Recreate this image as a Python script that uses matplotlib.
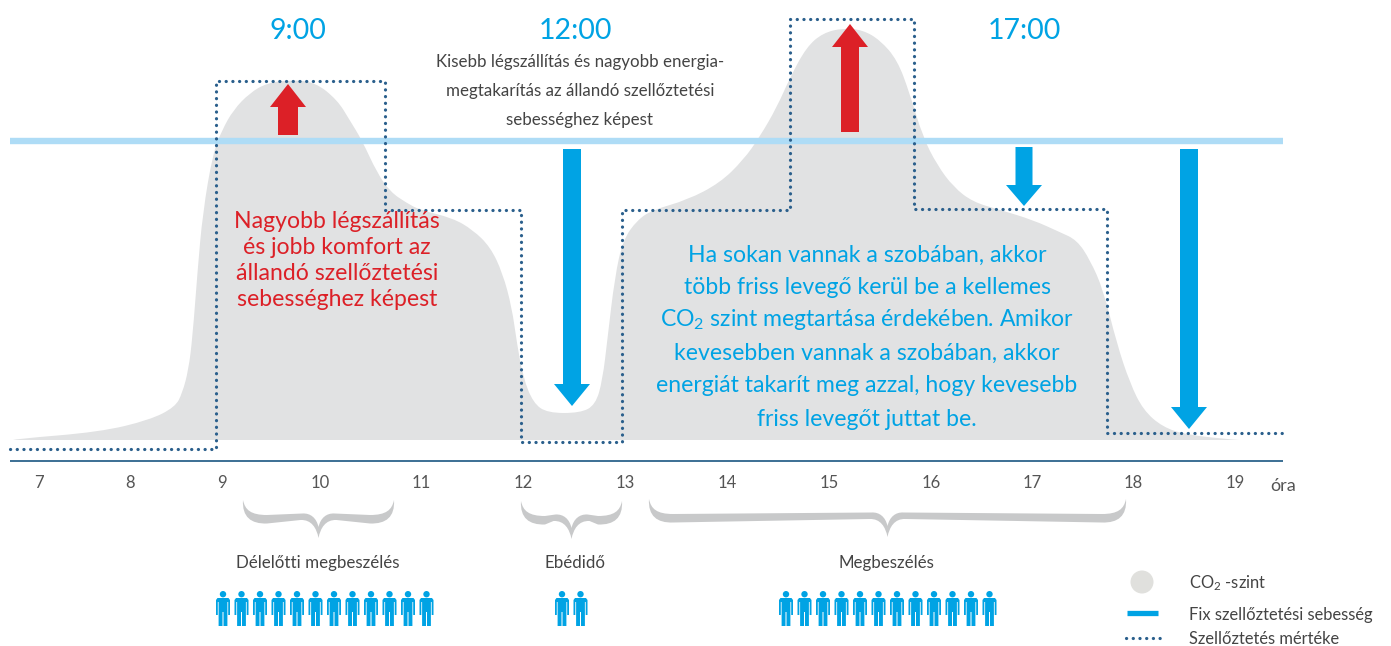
import matplotlib
matplotlib.use('Agg')
import matplotlib.pyplot as plt
from matplotlib.path import Path
from matplotlib.patches import PathPatch, Circle

plt.rcParams['font.family'] = ['Lato', 'DejaVu Sans']
plt.rcParams['mathtext.default'] = 'regular'

# CO2 outline, hour of day / level above the baseline
co2_hour = [7.00, 7.02, 7.85, 8.34, 8.59, 8.66, 8.72, 8.76, 8.81, 8.86, 8.96, 9.05, 9.16, 9.32, 9.49, 9.72, 9.96,
            10.18, 10.30, 10.42, 10.57, 10.70, 10.86, 10.99, 11.31, 11.51, 11.68, 11.80, 11.89, 11.94, 12.00, 12.10,
            12.24, 12.56, 12.71, 12.78, 12.83, 12.90, 12.98, 13.12, 13.27, 13.61, 13.93, 14.16, 14.32, 14.49, 14.62,
            14.78, 14.94, 15.14, 15.33, 15.50, 15.67, 15.79, 15.92, 16.06, 16.22, 16.41, 16.68, 17.00, 17.26, 17.43,
            17.56, 17.69, 17.82, 17.95, 18.08, 18.27, 18.51, 19.00, 19.05]
co2_level = [0, 1, 8, 20, 33, 47, 70, 103, 170, 227, 287, 310, 330, 347, 357, 360, 358,
             340, 320, 300, 267, 248, 237, 230, 222, 210, 193, 167, 133, 97, 63, 37,
             27, 27, 35, 60, 103, 163, 200, 220, 230, 240, 257, 280, 303, 333, 363,
             393, 407, 412, 410, 400, 380, 347, 303, 275, 253, 238, 230, 220, 208, 200,
             180, 150, 97, 57, 30, 13, 5, 0, 0]

# ventilation steps
vent_hour = [6.97, 8.99, 8.99, 10.65, 10.65, 11.98, 11.98, 12.97, 12.97, 14.62, 14.62, 15.83, 15.83, 17.73, 17.73, 19.47]
vent_level = [-9, -9, 359, 359, 230, 230, -2, -2, 230, 230, 421, 421, 231, 231, 7, 7]
fixed_level = 299

hour_labels = ['7', '8', '9', '10', '11', '12', '13', '14', '15', '16', '17', '18', '19']
hour_label_pos = [7.25, 8.15, 9.05, 10.01, 11.0, 12.0, 13.0, 14.0, 15.0, 16.0, 16.99, 17.98, 18.98]

period_labels = ['Délelőtti megbeszélés', 'Ebédidő', 'Megbeszélés']
period_people = [12, 2, 12]

red = '#dc2027'
blue = '#00a3e4'
dots = '#2a5f8c'
grey = '#e1e2e3'
dark = '#444444'
dotted = (0, (0.05, 2.05))

fig = plt.figure(figsize=(13.91, 6.46), dpi=100)

# chart axes: 102 px per hour, 1 px per level unit
ax = fig.add_axes([0, 0, 1, 1])
ax.set_xlim(6.8725, 20.5098)
ax.set_ylim(-206, 440)
ax.axis('off')

# smooth the outline with quadratic segments through the read points
pts = list(zip(co2_hour, co2_level))
verts = [pts[0]]
codes = [Path.MOVETO]
for i in range(1, len(pts) - 1):
    mid = ((pts[i][0] + pts[i + 1][0]) / 2, (pts[i][1] + pts[i + 1][1]) / 2)
    verts += [pts[i], mid]
    codes += [Path.CURVE3, Path.CURVE3]
verts += [pts[-1], pts[0], pts[0]]
codes += [Path.LINETO, Path.LINETO, Path.CLOSEPOLY]
ax.add_patch(PathPatch(Path(verts, codes), fc=grey, ec='none', zorder=1))

ax.plot([6.97, 19.45], [fixed_level, fixed_level], color='#aedcf6', lw=4.6, solid_capstyle='butt', zorder=2)
ax.plot(vent_hour, vent_level, color=dots, lw=2.3, ls=dotted, dash_capstyle='round', zorder=3)
ax.plot([6.97, 19.45], [-21, -21], color='#3b6f94', lw=1.4, solid_capstyle='butt', zorder=2)

for h, lab in zip(hour_label_pos, hour_labels):
    ax.text(h, -43, lab, ha='center', va='center', fontsize=12, color='#555555')

# overlay in image pixels for the annotation layer
ov = fig.add_axes([0, 0, 1, 1], facecolor='none')
ov.set_xlim(0, 1391)
ov.set_ylim(646, 0)
ov.axis('off')


def arrow(x, y0, y1, tip, half, col):
    xs = [x - half, x + half, x + half, x + 18, x, x - 18, x - half]
    ys = [y0, y0, y1, y1, tip, y1, y1]
    ov.fill(xs, ys, color=col, lw=0, zorder=5)


arrow(288, 135, 107, 84, 10, red)
arrow(850, 132, 47, 24, 9, red)
arrow(572, 149, 384, 406, 9, blue)
arrow(1024, 147, 185, 206, 8.5, blue)
arrow(1189, 149, 407, 429, 9, blue)


def brace(x0, x1, top=500, col='#c8c9ca'):
    xc = (x0 + x1) / 2
    v = [(x0, top), (x0 + 2, top + 10), (x0 + 8, top + 15), (x0 + 24, top + 15),
         (xc - 16, top + 13.5), (xc - 8, top + 13), (xc - 2, top + 18), (xc, top + 27),
         (xc + 2, top + 18), (xc + 8, top + 13), (xc + 16, top + 13.5),
         (x1 - 24, top + 15), (x1 - 8, top + 15), (x1 - 2, top + 10), (x1, top),
         (x1 + 1, top + 17), (x1 - 8, top + 24), (x1 - 24, top + 23.5),
         (xc + 18, top + 20), (xc + 7, top + 19.5), (xc + 2, top + 28), (xc, top + 38),
         (xc - 2, top + 28), (xc - 7, top + 19.5), (xc - 18, top + 20),
         (x0 + 24, top + 23.5), (x0 + 8, top + 24), (x0 - 1, top + 17), (x0, top)]
    c = [Path.MOVETO, Path.CURVE4, Path.CURVE4, Path.CURVE4,
         Path.LINETO, Path.CURVE4, Path.CURVE4, Path.CURVE4,
         Path.CURVE4, Path.CURVE4, Path.CURVE4,
         Path.LINETO, Path.CURVE4, Path.CURVE4, Path.CURVE4,
         Path.CURVE4, Path.CURVE4, Path.CURVE4,
         Path.LINETO, Path.CURVE4, Path.CURVE4, Path.CURVE4,
         Path.CURVE4, Path.CURVE4, Path.CURVE4,
         Path.LINETO, Path.CURVE4, Path.CURVE4, Path.CURVE4]
    ov.add_patch(PathPatch(Path(v, c), fc=col, ec='none'))


brace(243, 394)
brace(521, 622, top=501)
brace(649, 1126, top=499)


def person(x, y=591, col=blue):
    ov.add_patch(Circle((x, y + 3.2), 3.2, fc=col, ec='none'))
    xs = [-5.5, 5.5, 7, 7, 5.2, 5.2, 4.4, 4.4, 0.5, 0.5, -0.5, -0.5, -4.4, -4.4, -5.2, -5.2, -7, -7]
    ys = [7, 7, 9, 24, 24, 11, 11, 35, 35, 21, 21, 35, 35, 11, 11, 24, 24, 9]
    ov.fill([x + a for a in xs], [y + b for b in ys], color=col, lw=0)


period_start = [223, 562, 786]
for start, n in zip(period_start, period_people):
    for i in range(n):
        person(start + i * 18.5)

for x, lab in zip([318, 575, 886], period_labels):
    ov.text(x, 563, lab, ha='center', va='center', fontsize=12.2, color=dark)

for x, lab in zip([298, 575, 1024], ['9:00', '12:00', '17:00']):
    ov.text(x, 31, lab, ha='center', va='center', fontsize=20.5, color=blue)

ov.text(1283, 486, 'óra', ha='center', va='center', fontsize=13, color='#555555')

grey_lines = ['Kisebb légszállítás és nagyobb energia-', 'megtakarítás az állandó szellőztetési', 'sebességhez képest']
for y, lab in zip([62, 91, 120], grey_lines):
    ov.text(580, y, lab, ha='center', va='center', fontsize=12.2, color=dark)

red_lines = ['Nagyobb légszállítás', 'és jobb komfort az', 'állandó szellőztetési', 'sebességhez képest']
for y, lab in zip([222, 248, 273, 299], red_lines):
    ov.text(337, y, lab, ha='center', va='center', fontsize=16.6, color=red)

blue_lines = ['Ha sokan vannak a szobában, akkor', 'több friss levegő kerül be a kellemes',
              'CO$_2$ szint megtartása érdekében. Amikor', 'kevesebben vannak a szobában, akkor',
              'energiát takarít meg azzal, hogy kevesebb', 'friss levegőt juttat be.']
for y, lab in zip([255, 287, 320, 353, 386, 419], blue_lines):
    ov.text(867, y, lab, ha='center', va='center', fontsize=16.6, color=blue)

# legend
ov.add_patch(Circle((1142, 582), 11.5, fc='#e0e0dd', ec='none'))
ov.plot([1127, 1158], [613, 613], color=blue, lw=3.8, solid_capstyle='butt')
ov.plot([1126, 1160], [638, 638], color=dots, lw=2.3, ls=dotted, dash_capstyle='round')
ov.text(1189, 583, 'CO$_2$ -szint', va='center', fontsize=11.9, color=dark)
ov.text(1189, 615, 'Fix szellőztetési sebesség', va='center', fontsize=11.9, color=dark)
ov.text(1189, 639, 'Szellőztetés mértéke', va='center', fontsize=11.9, color=dark)

fig.savefig('out.png', dpi=100)
